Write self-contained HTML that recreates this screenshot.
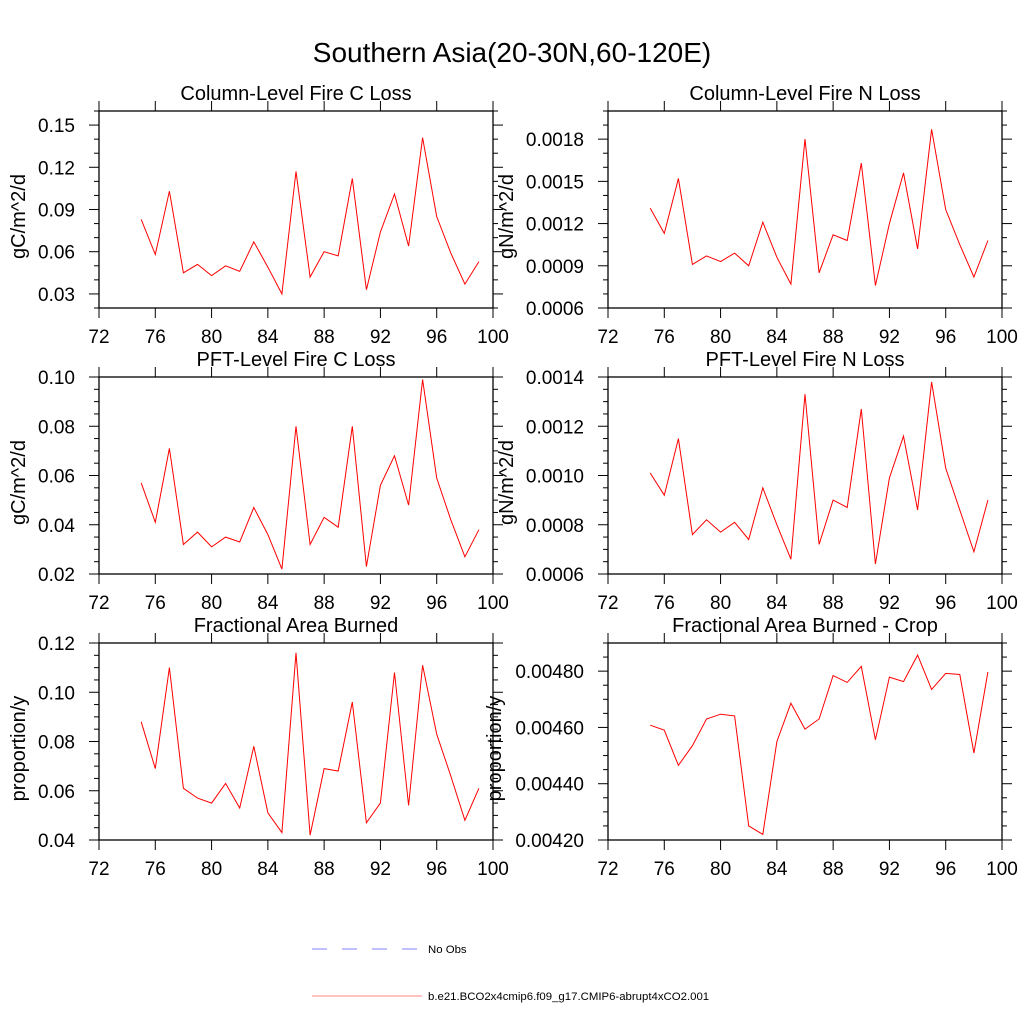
<!DOCTYPE html>
<html><head><meta charset="utf-8"><style>
body{margin:0;background:#fff;}
svg{display:block;font-family:"Liberation Sans",sans-serif;}
</style></head><body>
<svg id="chart" width="1024" height="1024" viewBox="0 0 1024 1024">
<rect width="1024" height="1024" fill="#fff"/>
<text x="512" y="62" font-size="28" text-anchor="middle">Southern Asia(20-30N,60-120E)</text>
<g id="panels"></g>
<g>
<line x1="312" y1="949" x2="418" y2="949" stroke="#8080ff" stroke-width="1" stroke-dasharray="15,15"/>
<text x="428" y="953" font-size="11.4">No Obs</text>
<line x1="312" y1="996" x2="422" y2="996" stroke="#ff8080" stroke-width="1"/>
<text x="428" y="1000" font-size="11.4">b.e21.BCO2x4cmip6.f09_g17.CMIP6-abrupt4xCO2.001</text>
</g>
</svg>
<script>
const years=[75,76,77,78,79,80,81,82,83,84,85,86,87,88,89,90,91,92,93,94,95,96,97,98,99];
const xTicks=[72,76,80,84,88,92,96,100];
const colC=[0.083,0.058,0.103,0.045,0.051,0.043,0.050,0.046,0.067,0.049,0.030,0.117,0.042,0.060,0.057,0.112,0.033,0.074,0.101,0.064,0.141,0.085,0.059,0.037,0.053];
const colN=[0.00131,0.00113,0.00152,0.00091,0.00097,0.00093,0.00099,0.00090,0.00121,0.00096,0.00077,0.00180,0.00085,0.00112,0.00108,0.00163,0.00076,0.00120,0.00156,0.00102,0.00187,0.00130,0.00105,0.00082,0.00108];
const pftC=[0.057,0.041,0.071,0.032,0.037,0.031,0.035,0.033,0.047,0.036,0.022,0.080,0.032,0.043,0.039,0.080,0.023,0.056,0.068,0.048,0.099,0.059,0.042,0.027,0.038];
const pftN=[0.00101,0.00092,0.00115,0.00076,0.00082,0.00077,0.00081,0.00074,0.00095,0.00080,0.00066,0.00133,0.00072,0.00090,0.00087,0.00127,0.00064,0.00099,0.00116,0.00086,0.00138,0.00103,0.00086,0.00069,0.00090];
const farea=[0.088,0.069,0.110,0.061,0.057,0.055,0.063,0.053,0.078,0.051,0.043,0.116,0.042,0.069,0.068,0.096,0.047,0.055,0.108,0.054,0.111,0.083,0.066,0.048,0.061];
const fareaCrop=[0.004608,0.00459,0.004465,0.004535,0.00463,0.004647,0.004641,0.00425,0.00422,0.00455,0.004686,0.004594,0.00463,0.004784,0.00476,0.004817,0.004556,0.004779,0.004763,0.004857,0.004735,0.004792,0.004788,0.004509,0.004797];
const yTicks1=["0.03","0.06","0.09","0.12","0.15"];
const yTicks2=["0.0006","0.0009","0.0012","0.0015","0.0018"];
const yTicks3=["0.02","0.04","0.06","0.08","0.10"];
const yTicks4=["0.0006","0.0008","0.0010","0.0012","0.0014"];
const yTicks5=["0.04","0.06","0.08","0.10","0.12"];
const yTicks6=["0.00420","0.00440","0.00460","0.00480"];
const NS="http://www.w3.org/2000/svg";
const g=document.getElementById('panels');
function mk(tag,attrs,parent){const e=document.createElementNS(NS,tag);for(const k in attrs)e.setAttribute(k,attrs[k]);(parent||g).appendChild(e);return e;}
const panels=[
 {name:'column-fire-c',title:'Column-Level Fire C Loss',yl:'gC/m^2/d',x0:99,y0:111,min:0.02,max:0.16,minor:0.01,ticks:yTicks1,data:colC,ax:18},
 {name:'column-fire-n',title:'Column-Level Fire N Loss',yl:'gN/m^2/d',x0:608,y0:111,min:0.0006,max:0.002,minor:0.0001,ticks:yTicks2,data:colN,ax:506},
 {name:'pft-fire-c',title:'PFT-Level Fire C Loss',yl:'gC/m^2/d',x0:99,y0:377,min:0.02,max:0.10,minor:0.005,ticks:yTicks3,data:pftC,ax:18},
 {name:'pft-fire-n',title:'PFT-Level Fire N Loss',yl:'gN/m^2/d',x0:608,y0:377,min:0.0006,max:0.0014,minor:0.00005,ticks:yTicks4,data:pftN,ax:506},
 {name:'fractional-area',title:'Fractional Area Burned',yl:'proportion/y',x0:99,y0:643,min:0.04,max:0.12,minor:0.005,ticks:yTicks5,data:farea,ax:18},
 {name:'fractional-area-crop',title:'Fractional Area Burned - Crop',yl:'proportion/y',x0:608,y0:643,min:0.0042,max:0.0049,minor:0.00005,ticks:yTicks6,data:fareaCrop,ax:494}
];
const W=394,H=197;
panels.forEach(p=>{
 const pg=mk('g',{});
 
 
 const xs=v=>p.x0+(v-72)/28*W;
 const ys=v=>p.y0+H-(v-p.min)/(p.max-p.min)*H;
 const r=mk('rect',{x:p.x0,y:p.y0,width:W,height:H,fill:'none',stroke:'#000','stroke-width':1.3},pg);
 
 
 const t=mk('text',{x:p.x0+W/2,y:p.y0-11,'font-size':20,'text-anchor':'middle'},pg);t.textContent=p.title;
 
 
 const yl=mk('text',{x:p.ax,y:p.y0+H/2,'font-size':20,'text-anchor':'middle',transform:`rotate(-90 ${p.ax+7} ${p.y0+H/2})`},pg);yl.textContent=p.yl;
 
 
 xTicks.forEach(v=>{
  const x=xs(v);
  mk('line',{x1:x,y1:p.y0+H,x2:x,y2:p.y0+H+10,stroke:'#000'},pg);
  mk('line',{x1:x,y1:p.y0,x2:x,y2:p.y0-10,stroke:'#000'},pg);
  const l=mk('text',{x:x,y:p.y0+H+35,'font-size':19,'text-anchor':'middle'},pg);l.textContent=v;
  
  
 });
 const n=Math.round((p.max-p.min)/p.minor);
 for(let i=0;i<=n;i++){
  const v=p.min+i*p.minor;const y=ys(v);
  const major=p.ticks.some(s=>Math.abs(parseFloat(s)-v)<p.minor*0.1);
  const len=major?10:5;
  mk('line',{x1:p.x0,y1:y,x2:p.x0-len,y2:y,stroke:'#000'},pg);
  mk('line',{x1:p.x0+W,y1:y,x2:p.x0+W+len,y2:y,stroke:'#000'},pg);
 }
 p.ticks.forEach(s=>{
  const y=ys(parseFloat(s));
  const l=mk('text',{x:p.x0-24,y:y+7,'font-size':19,'text-anchor':'end'},pg);l.textContent=s;
  
  
 });
 const pts=years.map((yr,i)=>xs(yr).toFixed(1)+','+ys(p.data[i]).toFixed(1)).join(' ');
 const ln=mk('polyline',{points:pts,fill:'none',stroke:'#f00','stroke-width':1},pg);
 
 
});
</script>
</body></html>
